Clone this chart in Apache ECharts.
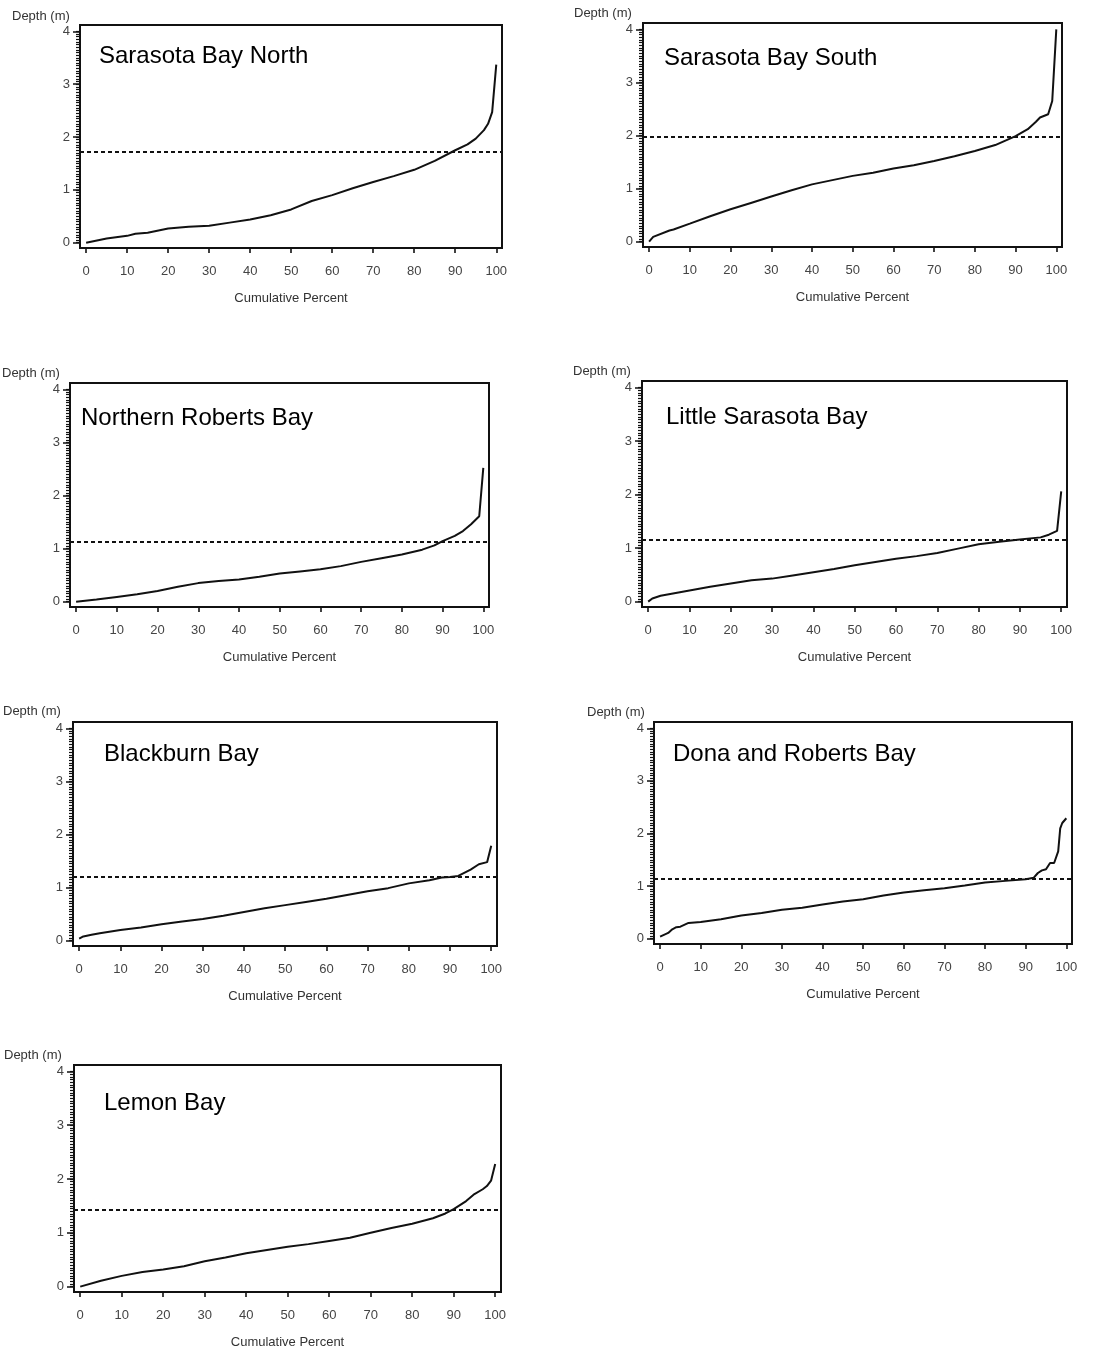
<!DOCTYPE html>
<html>
<head>
<meta charset="utf-8">
<title>Depth distribution by bay segment</title>
<script src="https://cdn.jsdelivr.net/npm/echarts@6/dist/echarts.min.js"></script>
<style>
  html, body { margin: 0; padding: 0; background: #fff; }
  #chart { width: 1120px; height: 1352px; }
</style>
</head>
<body>
<div id="chart"></div>
<script>
// ---- data ----
const bayNames = [
  'Sarasota Bay North', 'Sarasota Bay South', 'Northern Roberts Bay',
  'Little Sarasota Bay', 'Blackburn Bay', 'Dona and Roberts Bay', 'Lemon Bay'
];
// reference depth drawn as the dashed line in each panel (m)
const refDepth = [1.72, 1.97, 1.13, 1.16, 1.20, 1.14, 1.42];

const xTicks = [0, 10, 20, 30, 40, 50, 60, 70, 80, 90, 100];
const yTicks = [0, 1, 2, 3, 4];

// cumulative percent / depth (m) pairs per bay
const pctSarasotaNorth = [0, 5, 10, 12, 15, 20, 25, 30, 35, 40, 45, 50, 55, 60, 65, 70, 75, 80, 85, 90, 93, 95, 97, 98, 99, 100];
const depthSarasotaNorth = [0, 0.08, 0.13, 0.17, 0.19, 0.27, 0.30, 0.32, 0.38, 0.44, 0.52, 0.63, 0.79, 0.90, 1.03, 1.15, 1.26, 1.38, 1.55, 1.75, 1.86, 1.97, 2.13, 2.25, 2.47, 3.37];

const pctSarasotaSouth = [0, 1, 5, 6, 10, 15, 20, 25, 30, 35, 40, 45, 50, 55, 60, 65, 70, 75, 80, 85, 90, 93, 95, 96, 98, 99, 100];
const depthSarasotaSouth = [0, 0.09, 0.21, 0.23, 0.34, 0.48, 0.61, 0.73, 0.85, 0.97, 1.08, 1.16, 1.24, 1.30, 1.38, 1.44, 1.52, 1.61, 1.71, 1.82, 1.99, 2.12, 2.26, 2.34, 2.40, 2.65, 4.0];

const pctNorthernRoberts = [0, 5, 10, 15, 20, 25, 30, 35, 40, 45, 50, 55, 60, 65, 70, 75, 80, 85, 88, 90, 93, 95, 97, 99, 100];
const depthNorthernRoberts = [0, 0.04, 0.09, 0.14, 0.20, 0.28, 0.35, 0.39, 0.42, 0.47, 0.53, 0.57, 0.61, 0.67, 0.75, 0.82, 0.89, 0.98, 1.06, 1.14, 1.24, 1.33, 1.46, 1.61, 2.52];

const pctLittleSarasota = [0, 1, 3, 5, 10, 15, 20, 25, 30, 35, 40, 45, 50, 55, 60, 65, 70, 75, 80, 85, 90, 95, 97, 99, 100];
const depthLittleSarasota = [0, 0.06, 0.11, 0.14, 0.21, 0.28, 0.34, 0.40, 0.43, 0.49, 0.55, 0.61, 0.68, 0.74, 0.80, 0.85, 0.91, 0.99, 1.07, 1.12, 1.16, 1.20, 1.25, 1.32, 2.06];

const pctBlackburn = [0, 1, 3, 5, 10, 15, 20, 25, 30, 35, 40, 45, 50, 55, 60, 65, 70, 75, 80, 85, 88, 90, 92, 95, 97, 99, 100];
const depthBlackburn = [0.04, 0.08, 0.11, 0.14, 0.20, 0.25, 0.31, 0.36, 0.41, 0.47, 0.54, 0.61, 0.67, 0.73, 0.79, 0.86, 0.93, 0.99, 1.08, 1.14, 1.19, 1.20, 1.22, 1.34, 1.44, 1.48, 1.79];

const pctDonaRoberts = [0, 2, 3, 4, 5, 7, 10, 15, 20, 25, 30, 35, 40, 45, 50, 55, 60, 65, 70, 75, 80, 85, 90, 92, 93, 94, 95, 96, 97, 98, 98.5, 99, 100];
const depthDonaRoberts = [0.04, 0.11, 0.18, 0.22, 0.23, 0.30, 0.32, 0.37, 0.44, 0.49, 0.55, 0.59, 0.65, 0.71, 0.75, 0.82, 0.88, 0.92, 0.96, 1.01, 1.07, 1.10, 1.13, 1.16, 1.25, 1.30, 1.32, 1.44, 1.44, 1.66, 2.10, 2.20, 2.29];

const pctLemon = [0, 5, 10, 15, 20, 25, 30, 35, 40, 45, 50, 55, 60, 65, 70, 75, 80, 85, 88, 90, 93, 95, 97, 98, 99, 100];
const depthLemon = [0, 0.11, 0.20, 0.27, 0.32, 0.38, 0.47, 0.54, 0.62, 0.68, 0.74, 0.79, 0.85, 0.91, 1.00, 1.09, 1.17, 1.27, 1.36, 1.44, 1.59, 1.72, 1.81, 1.87, 1.97, 2.28];

const pctSeries = [pctSarasotaNorth, pctSarasotaSouth, pctNorthernRoberts, pctLittleSarasota, pctBlackburn, pctDonaRoberts, pctLemon];
const depthSeries = [depthSarasotaNorth, depthSarasotaSouth, depthNorthernRoberts, depthLittleSarasota, depthBlackburn, depthDonaRoberts, depthLemon];

// ---- layout (px): plot frame, bay title position, y-name position ----
const layout = [
  { frame: [80, 25, 422, 223],   title: [99, 44],    yName: [12, 10] },
  { frame: [643, 23, 419, 224],  title: [664, 46],   yName: [574, 7] },
  { frame: [70, 383, 419, 224],  title: [81, 406],   yName: [2, 367] },
  { frame: [642, 381, 425, 226], title: [666, 405],  yName: [573, 365] },
  { frame: [73, 722, 424, 224],  title: [104, 742],  yName: [3, 705] },
  { frame: [654, 722, 418, 222], title: [673, 742],  yName: [587, 706] },
  { frame: [74, 1065, 427, 227], title: [104, 1091], yName: [4, 1049] }
];

const FONT = '"Liberation Sans", Arial, sans-serif';
const X_MIN = -1.5, X_MAX = 101.4;
const Y_MIN = -0.1, Y_MAX = 4.12;

// fine tick marks along the depth axis, every 0.05 m
const yMinorTicks = [];
for (let i = 0; i <= 80; i++) yMinorTicks.push(+(i * 0.05).toFixed(2));

const grids = [], xAxes = [], yAxes = [], series = [], titles = [];

bayNames.forEach((name, i) => {
  const L = layout[i];
  const [left, top, width, height] = L.frame;
  grids.push({
    left, top, width, height,
    show: true, borderColor: '#111', borderWidth: 2,
    backgroundColor: 'transparent',
    containLabel: false, outerBoundsMode: 'none'
  });

  xAxes.push({
    type: 'value', gridIndex: i, min: X_MIN, max: X_MAX, position: 'bottom',
    name: 'Cumulative Percent', nameLocation: 'middle', nameGap: 44,
    nameTextStyle: { fontFamily: FONT, fontSize: 13, color: '#333' },
    axisLine: { show: false, onZero: false },
    splitLine: { show: false },
    axisTick: { show: true, inside: false, length: 5, customValues: xTicks,
      lineStyle: { color: '#111', width: 1.6 } },
    axisLabel: { show: true, margin: 17, customValues: xTicks,
      fontFamily: FONT, fontSize: 13, color: '#444' }
  });

  // main depth axis with labelled ticks
  yAxes.push({
    type: 'value', gridIndex: i, min: Y_MIN, max: Y_MAX, position: 'left',
    axisLine: { show: false, onZero: false },
    splitLine: { show: false },
    axisTick: { show: true, inside: false, length: 7, customValues: yTicks,
      lineStyle: { color: '#111', width: 1.5 } },
    axisLabel: { show: true, margin: 10, customValues: yTicks,
      fontFamily: FONT, fontSize: 13, color: '#444' }
  });
  // companion axis carrying the fine ticks only
  yAxes.push({
    type: 'value', gridIndex: i, min: Y_MIN, max: Y_MAX, position: 'left', offset: 0,
    axisLine: { show: false, onZero: false },
    splitLine: { show: false },
    axisTick: { show: true, inside: false, length: 4, customValues: yMinorTicks,
      lineStyle: { color: '#111', width: 1.2 } },
    axisLabel: { show: false }
  });

  series.push({
    type: 'line', xAxisIndex: i, yAxisIndex: 2 * i,
    data: pctSeries[i].map((p, k) => [p, depthSeries[i][k]]),
    showSymbol: false, symbol: 'none', smooth: false,
    lineStyle: { color: '#111', width: 2 },
    silent: true,
    markLine: {
      silent: true, symbol: ['none', 'none'],
      label: { show: false },
      lineStyle: { color: '#111', width: 2, type: [4, 3] },
      emphasis: { disabled: true },
      data: [{ yAxis: refDepth[i] }]
    }
  });

  titles.push({
    text: name, left: L.title[0], top: L.title[1], padding: 0,
    textStyle: { fontFamily: FONT, fontSize: 24, fontWeight: 'normal', color: '#000' }
  });
  titles.push({
    text: 'Depth (m)', left: L.yName[0], top: L.yName[1], padding: 0,
    textStyle: { fontFamily: FONT, fontSize: 13, fontWeight: 'normal', color: '#333' }
  });
});

const chart = echarts.init(document.getElementById('chart'), null, { renderer: 'canvas' });
chart.setOption({
  backgroundColor: '#fff',
  animation: false,
  title: titles,
  grid: grids,
  xAxis: xAxes,
  yAxis: yAxes,
  series: series,
  tooltip: { show: false }
});
</script>
</body>
</html>
